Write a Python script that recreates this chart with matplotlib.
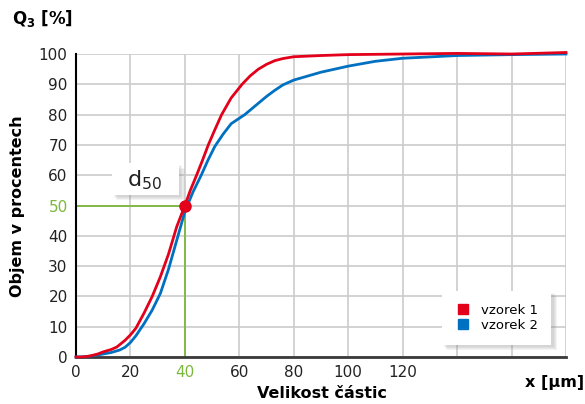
import numpy as np
import matplotlib.pyplot as plt
import matplotlib.patheffects as pe
from matplotlib.lines import Line2D
from matplotlib.patches import Rectangle

# particle size [um] and cumulative volume Q3 [%]
size_1 = [0, 2, 5, 8, 10, 13, 15, 18, 20, 22, 25, 28, 31, 34, 37, 40, 42, 44.3, 46.5, 48.6,
          51, 53.5, 57, 61, 64, 67, 70, 73, 76, 80, 90, 100, 120, 140, 160, 180]
q3_1 = [0, 0, 0.3, 1.0, 1.7, 2.5, 3.3, 5.5, 7.3, 9.5, 14.5, 20, 26.5, 34, 43, 50, 55,
        60, 65, 70, 75, 80, 85.5, 90, 92.8, 95, 96.6, 97.8, 98.5, 99.1, 99.5, 99.8, 100,
        100.2, 100, 100.5]

size_2 = [0, 3, 6, 10, 13, 16, 18, 20, 22, 25, 28, 31, 34, 37, 40, 43, 46, 48.5, 51, 54,
          57, 60, 62, 66, 70, 73, 76, 80, 90, 100, 110, 120, 140, 160, 180]
q3_2 = [0, 0.1, 0.4, 1.0, 1.5, 2.3, 3.2, 4.8, 7, 11, 15.5, 21, 29, 38.5, 48, 54.5, 60,
        65, 69.5, 73.5, 77, 78.8, 80, 83, 86, 88, 89.8, 91.4, 94, 96, 97.6, 98.6, 99.5,
        99.8, 100]

d50_size = 40
d50_value = 50

x_ticks = [0, 20, 40, 60, 80, 100, 120]
y_ticks = list(range(0, 101, 10))

red = '#e2001a'
blue = '#0070c0'
green = '#7cb83e'

fig = plt.figure(figsize=(5.85, 4.04), dpi=100)
ax = fig.add_axes([0.1299, 0.1163, 0.8376, 0.75])

ax.set_xlim(0, 180)
ax.set_ylim(0, 100)
ax.set_xticks(np.arange(0, 181, 20))
ax.set_xticklabels([str(v) if v in x_ticks else '' for v in np.arange(0, 181, 20)])
ax.set_yticks(y_ticks)
ax.grid(True, color='#cccccc', linewidth=1.2)
ax.set_axisbelow(True)
ax.tick_params(length=0, labelsize=11, colors='#222222', pad=6)

for s in ['top', 'right']:
    ax.spines[s].set_visible(False)
ax.spines['left'].set_color('black')
ax.spines['left'].set_linewidth(1.5)
ax.spines['bottom'].set_color('#3a3a3a')
ax.spines['bottom'].set_linewidth(2)

# green highlight on the d50 ticks
for lbl in ax.get_xticklabels():
    if lbl.get_text() == str(d50_size):
        lbl.set_color(green)
for lbl in ax.get_yticklabels():
    if lbl.get_text() == str(d50_value):
        lbl.set_color(green)

ax.plot([0, d50_size], [d50_value, d50_value], color=green, lw=1.3, zorder=2)
ax.plot([d50_size, d50_size], [0, d50_value], color=green, lw=1.3, zorder=2)

ax.plot(size_2, q3_2, color=blue, lw=2, zorder=3, clip_on=False)
ax.plot(size_1, q3_1, color=red, lw=2, zorder=4, clip_on=False)
ax.plot([d50_size], [d50_value], 'o', color=red, ms=8, zorder=5)

# soft drop shadow built from a few faint offset layers
shadow = [pe.SimplePatchShadow(offset=(k, -k), shadow_rgbFace='#808080', alpha=0.09)
          for k in (4, 3.2, 2.4, 1.6)] + [pe.Normal()]

# d50 label box
box = Rectangle((13.2, 53.5), 24.7, 10.5, fc='white', ec='none', zorder=6)
box.set_path_effects(shadow)
ax.add_patch(box)
ax.text(25.3, 58.5, r'd$_{50}$', fontsize=16, ha='center', va='center', color='#222222',
        zorder=7)

handles = [Line2D([], [], marker='s', ls='none', color=red, ms=6.5),
           Line2D([], [], marker='s', ls='none', color=blue, ms=6.5)]
leg = ax.legend(handles, ['vzorek 1', 'vzorek 2'], loc='lower right',
                bbox_to_anchor=(0.97, 0.04), fontsize=9.5, frameon=True, fancybox=False,
                edgecolor='none', framealpha=1, borderpad=1.0, handletextpad=0.7,
                labelspacing=0.15, handlelength=1.3, borderaxespad=0)
leg.get_frame().set_path_effects(shadow)

fig.text(0.02, 0.955, r'Q$_\mathbf{3}$ [%]', fontsize=12, fontweight='bold', ha='left', va='center')
fig.text(0.03, 0.49, 'Objem v procentech', fontsize=11.5, fontweight='bold', rotation=90,
         ha='center', va='center')
fig.text(0.55, 0.025, 'Velikost částic', fontsize=11.5, fontweight='bold', ha='center', va='center')
fig.text(0.998, 0.052, 'x [µm]', fontsize=11.5, fontweight='bold', ha='right', va='center')

fig.savefig('out.png', dpi=100)
